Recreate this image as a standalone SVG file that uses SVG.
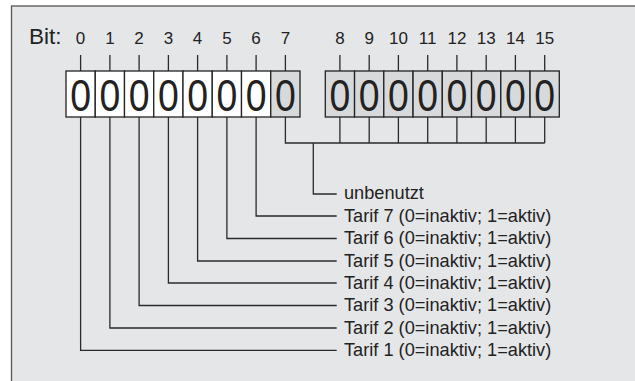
<svg xmlns="http://www.w3.org/2000/svg" width="635" height="381" viewBox="0 0 635 381">
<style>
text{font-family:"Liberation Sans",Arial,sans-serif;fill:#222}
.num{font-size:17px;text-anchor:middle}
.zero{font-size:44px;text-anchor:middle}
.lbl{font-size:18.2px}
.cw{fill:#fff;stroke:#222;stroke-width:1.3}
.cg{fill:#d8d9db;stroke:#222;stroke-width:1.3}
.ln{fill:none;stroke:#2a2a2a;stroke-width:1.3}
</style>
<rect x="0" y="0" width="635" height="381" fill="#fff"/>
<rect id="frame" x="11.5" y="6" width="640" height="390" fill="#e5e6e8" stroke="#555" stroke-width="1.3"/>
<text x="29" y="44" style="font-size:22.5px">Bit:</text>
<g id="bitnumbers">
<text class="num" x="80.6" y="44">0</text>
<text class="num" x="109.9" y="44">1</text>
<text class="num" x="139.1" y="44">2</text>
<text class="num" x="168.4" y="44">3</text>
<text class="num" x="197.6" y="44">4</text>
<text class="num" x="226.9" y="44">5</text>
<text class="num" x="256.1" y="44">6</text>
<text class="num" x="285.4" y="44">7</text>
<text class="num" x="339.9" y="44">8</text>
<text class="num" x="369.2" y="44">9</text>
<text class="num" x="398.4" y="44">10</text>
<text class="num" x="427.7" y="44">11</text>
<text class="num" x="456.9" y="44">12</text>
<text class="num" x="486.2" y="44">13</text>
<text class="num" x="515.4" y="44">14</text>
<text class="num" x="544.7" y="44">15</text>
</g>
<g id="byte-low">
<rect class="cw" x="66" y="71" width="29.25" height="46"/>
<rect class="cw" x="95.25" y="71" width="29.25" height="46"/>
<rect class="cw" x="124.5" y="71" width="29.25" height="46"/>
<rect class="cw" x="153.75" y="71" width="29.25" height="46"/>
<rect class="cw" x="183" y="71" width="29.25" height="46"/>
<rect class="cw" x="212.25" y="71" width="29.25" height="46"/>
<rect class="cw" x="241.5" y="71" width="29.25" height="46"/>
<rect class="cg" x="270.75" y="71" width="29.25" height="46"/>
<text class="zero" transform="translate(80.6 111) scale(0.85 1)">0</text>
<text class="zero" transform="translate(109.9 111) scale(0.85 1)">0</text>
<text class="zero" transform="translate(139.1 111) scale(0.85 1)">0</text>
<text class="zero" transform="translate(168.4 111) scale(0.85 1)">0</text>
<text class="zero" transform="translate(197.6 111) scale(0.85 1)">0</text>
<text class="zero" transform="translate(226.9 111) scale(0.85 1)">0</text>
<text class="zero" transform="translate(256.1 111) scale(0.85 1)">0</text>
<text class="zero" transform="translate(285.4 111) scale(0.85 1)">0</text>
</g>
<g id="byte-high">
<rect class="cg" x="325.3" y="71" width="29.25" height="46"/>
<rect class="cg" x="354.55" y="71" width="29.25" height="46"/>
<rect class="cg" x="383.8" y="71" width="29.25" height="46"/>
<rect class="cg" x="413.05" y="71" width="29.25" height="46"/>
<rect class="cg" x="442.3" y="71" width="29.25" height="46"/>
<rect class="cg" x="471.55" y="71" width="29.25" height="46"/>
<rect class="cg" x="500.8" y="71" width="29.25" height="46"/>
<rect class="cg" x="530.05" y="71" width="29.25" height="46"/>
<text class="zero" transform="translate(339.9 111) scale(0.85 1)">0</text>
<text class="zero" transform="translate(369.2 111) scale(0.85 1)">0</text>
<text class="zero" transform="translate(398.4 111) scale(0.85 1)">0</text>
<text class="zero" transform="translate(427.7 111) scale(0.85 1)">0</text>
<text class="zero" transform="translate(456.9 111) scale(0.85 1)">0</text>
<text class="zero" transform="translate(486.2 111) scale(0.85 1)">0</text>
<text class="zero" transform="translate(515.4 111) scale(0.85 1)">0</text>
<text class="zero" transform="translate(544.7 111) scale(0.85 1)">0</text>
</g>
<g id="connectors" class="ln">
<path d="M80.6 55V71M109.9 55V71M139.1 55V71M168.4 55V71M197.6 55V71M226.9 55V71M256.1 55V71M285.4 55V71M339.9 55V71M369.2 55V71M398.4 55V71M427.7 55V71M456.9 55V71M486.2 55V71M515.4 55V71M544.7 55V71"/>
<path d="M285.4 117V143H544.7M339.9 117V143M369.2 117V143M398.4 117V143M427.7 117V143M456.9 117V143M486.2 117V143M515.4 117V143M544.7 117V143"/>
<path d="M313.3 143V194H336.7"/>
<path d="M256.1 117V216H336.7"/>
<path d="M226.9 117V238.5H336.7"/>
<path d="M197.6 117V261H336.7"/>
<path d="M168.4 117V283H336.7"/>
<path d="M139.1 117V305.5H336.7"/>
<path d="M109.9 117V328H336.7"/>
<path d="M80.6 117V350.3H336.7"/>
</g>
<g id="labels">
<text class="lbl" x="344" y="199">unbenutzt</text>
<text class="lbl" x="344" y="221.5">Tarif 7 (0=inaktiv; 1=aktiv)</text>
<text class="lbl" x="344" y="244">Tarif 6 (0=inaktiv; 1=aktiv)</text>
<text class="lbl" x="344" y="266.5">Tarif 5 (0=inaktiv; 1=aktiv)</text>
<text class="lbl" x="344" y="288.5">Tarif 4 (0=inaktiv; 1=aktiv)</text>
<text class="lbl" x="344" y="311">Tarif 3 (0=inaktiv; 1=aktiv)</text>
<text class="lbl" x="344" y="333.5">Tarif 2 (0=inaktiv; 1=aktiv)</text>
<text class="lbl" x="344" y="355.8">Tarif 1 (0=inaktiv; 1=aktiv)</text>
</g>
</svg>
